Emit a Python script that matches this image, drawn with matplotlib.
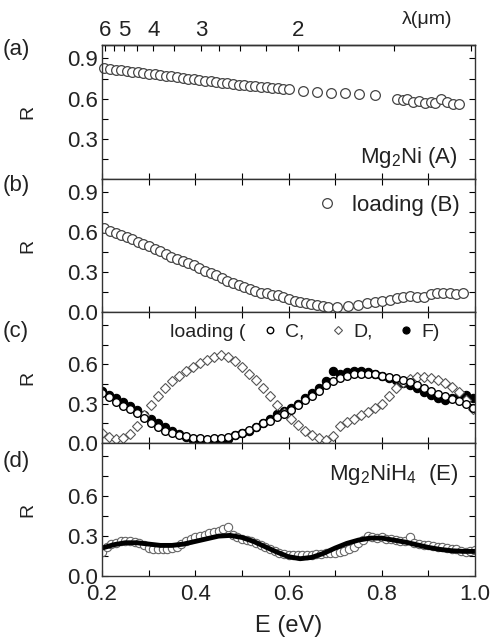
import numpy as np
import matplotlib.pyplot as plt
from matplotlib.ticker import MultipleLocator, FixedLocator

plt.rcParams['font.family'] = ['Liberation Sans', 'DejaVu Sans']
plt.rcParams['mathtext.default'] = 'regular'

# panel (a): Mg2Ni (A)
E_a = [0.205, 0.217, 0.229, 0.241, 0.253, 0.265, 0.277, 0.289, 0.301, 0.313,
       0.325, 0.337, 0.349, 0.361, 0.373, 0.385, 0.397, 0.409, 0.421, 0.433,
       0.445, 0.457, 0.469, 0.481, 0.493, 0.505, 0.517, 0.529, 0.541, 0.553,
       0.565, 0.577, 0.589, 0.601, 0.632, 0.662, 0.692, 0.722, 0.752, 0.785,
       0.832, 0.845, 0.855, 0.868, 0.880, 0.892, 0.905, 0.915, 0.928, 0.940,
       0.952, 0.965]
R_a = [0.825, 0.82, 0.815, 0.81, 0.805, 0.80, 0.795, 0.79, 0.785, 0.78,
       0.775, 0.77, 0.765, 0.76, 0.755, 0.75, 0.745, 0.74, 0.735, 0.73,
       0.725, 0.72, 0.715, 0.71, 0.705, 0.70, 0.697, 0.693, 0.69, 0.686,
       0.682, 0.678, 0.673, 0.668, 0.66, 0.652, 0.645, 0.64, 0.635, 0.625,
       0.60, 0.59, 0.595, 0.575, 0.58, 0.57, 0.575, 0.565, 0.595, 0.575,
       0.56, 0.56]

# panel (b): loading (B)
E_b = [0.205, 0.217, 0.229, 0.241, 0.253, 0.265, 0.277, 0.289, 0.301, 0.313,
       0.325, 0.337, 0.349, 0.361, 0.373, 0.385, 0.397, 0.409, 0.421, 0.433,
       0.445, 0.457, 0.469, 0.481, 0.493, 0.505, 0.517, 0.529, 0.541, 0.553,
       0.565, 0.577, 0.589, 0.601, 0.613, 0.625, 0.637, 0.649, 0.661, 0.673,
       0.685, 0.703, 0.728, 0.750, 0.768, 0.786, 0.800, 0.818, 0.832, 0.845,
       0.860, 0.875, 0.890, 0.905, 0.918, 0.932, 0.946, 0.960, 0.975]
R_b = [0.63, 0.61, 0.595, 0.58, 0.565, 0.55, 0.53, 0.51, 0.495, 0.475,
       0.455, 0.435, 0.415, 0.40, 0.385, 0.365, 0.35, 0.33, 0.31, 0.29,
       0.275, 0.255, 0.235, 0.215, 0.20, 0.185, 0.17, 0.155, 0.145, 0.14,
       0.13, 0.125, 0.115, 0.095, 0.085, 0.075, 0.068, 0.06, 0.055, 0.048,
       0.04, 0.035, 0.048, 0.055, 0.068, 0.075, 0.08, 0.09, 0.105, 0.112,
       0.12, 0.115, 0.112, 0.135, 0.14, 0.145, 0.14, 0.135, 0.14]

# panel (c): loading C, D, F
E_c = [0.200, 0.215, 0.230, 0.245, 0.260, 0.275, 0.290, 0.305, 0.320, 0.335,
       0.350, 0.365, 0.380, 0.395, 0.410, 0.425, 0.440, 0.455, 0.470, 0.485,
       0.500, 0.515, 0.530, 0.545, 0.560, 0.575, 0.590, 0.605, 0.620, 0.635,
       0.650, 0.665, 0.680, 0.695, 0.710, 0.725, 0.740, 0.755, 0.770, 0.785,
       0.800, 0.815, 0.830, 0.845, 0.860, 0.875, 0.890, 0.905, 0.920, 0.935,
       0.950, 0.965, 0.980, 0.995]
R_C = [0.38, 0.35, 0.31, 0.28, 0.26, 0.23, 0.19, 0.15, 0.12, 0.095,
       0.075, 0.06, 0.05, 0.04, 0.035, 0.033, 0.035, 0.04, 0.048, 0.06,
       0.08, 0.10, 0.125, 0.15, 0.17, 0.195, 0.225, 0.25, 0.29, 0.33,
       0.36, 0.40, 0.44, 0.47, 0.495, 0.515, 0.525, 0.53, 0.53, 0.525,
       0.515, 0.505, 0.495, 0.48, 0.465, 0.445, 0.42, 0.40, 0.375, 0.355,
       0.335, 0.32, 0.30, 0.27]
R_D = [0.08, 0.045, 0.03, 0.035, 0.07, 0.13, 0.21, 0.29, 0.36, 0.42,
       0.47, 0.51, 0.55, 0.58, 0.61, 0.635, 0.66, 0.67, 0.655, 0.625,
       0.58, 0.53, 0.48, 0.42, 0.36, 0.29, 0.23, 0.18, 0.135, 0.095,
       0.06, 0.035, 0.02, 0.055, 0.13, 0.16, 0.185, 0.21, 0.235, 0.265,
       0.30, 0.36, 0.42, 0.465, 0.49, 0.505, 0.505, 0.495, 0.48, 0.46,
       0.43, 0.39, 0.33, 0.26]
R_F = [0.40, 0.37, 0.34, 0.31, 0.28, 0.25, 0.21, 0.18, 0.15, 0.12,
       0.09, 0.065, 0.045, 0.025, 0.015, 0.01, 0.01, 0.015, 0.03, 0.06,
       0.075, 0.095, 0.125, 0.15, 0.185, 0.22, 0.245, 0.27, 0.30, 0.34,
       0.38, 0.42, 0.47, 0.55, 0.53, 0.545, 0.55, 0.55, 0.54, 0.53,
       0.515, 0.50, 0.48, 0.46, 0.44, 0.42, 0.39, 0.37, 0.345, 0.33,
       0.34, 0.36, 0.37, 0.34]

# panel (d): Mg2NiH4 (E), measured points and fit line
E_d = [0.20, 0.21, 0.22, 0.23, 0.24, 0.25, 0.26, 0.27, 0.28, 0.29,
       0.30, 0.31, 0.32, 0.33, 0.34, 0.35, 0.36, 0.37, 0.38, 0.39,
       0.40, 0.41, 0.42, 0.43, 0.44, 0.45, 0.46, 0.47, 0.48, 0.49,
       0.50, 0.51, 0.52, 0.53, 0.54, 0.55, 0.56, 0.57, 0.58, 0.59,
       0.60, 0.61, 0.62, 0.63, 0.64, 0.65, 0.66, 0.67, 0.68, 0.69,
       0.70, 0.71, 0.72, 0.73, 0.74, 0.75, 0.76, 0.77, 0.78, 0.79,
       0.80, 0.81, 0.82, 0.83, 0.84, 0.85, 0.86, 0.87, 0.88, 0.89,
       0.90, 0.91, 0.92, 0.93, 0.94, 0.95, 0.96, 0.97, 0.98, 0.99, 1.00]
R_d = [0.18, 0.22, 0.24, 0.25, 0.26, 0.26, 0.26, 0.255, 0.25, 0.23,
       0.21, 0.20, 0.20, 0.20, 0.20, 0.21, 0.22, 0.24, 0.26, 0.28,
       0.29, 0.30, 0.31, 0.32, 0.33, 0.34, 0.35, 0.37, 0.31, 0.29,
       0.28, 0.27, 0.26, 0.25, 0.235, 0.22, 0.20, 0.19, 0.175, 0.165,
       0.16, 0.155, 0.155, 0.155, 0.16, 0.16, 0.165, 0.165, 0.17, 0.17,
       0.175, 0.18, 0.19, 0.20, 0.22, 0.245, 0.27, 0.30, 0.29, 0.285,
       0.29, 0.28, 0.275, 0.27, 0.26, 0.265, 0.29, 0.25, 0.24, 0.235,
       0.23, 0.225, 0.22, 0.215, 0.21, 0.205, 0.20, 0.19, 0.18, 0.19, 0.195]
E_fit = [0.200, 0.225, 0.250, 0.275, 0.300, 0.325, 0.350, 0.375, 0.400, 0.425,
         0.450, 0.475, 0.500, 0.525, 0.550, 0.575, 0.600, 0.625, 0.650, 0.675,
         0.700, 0.725, 0.750, 0.775, 0.800, 0.825, 0.850, 0.875, 0.900, 0.925,
         0.950, 0.975, 1.000]
R_fit = [0.21, 0.235, 0.25, 0.25, 0.24, 0.23, 0.23, 0.24, 0.26, 0.28,
         0.30, 0.305, 0.29, 0.26, 0.22, 0.18, 0.145, 0.13, 0.14, 0.17,
         0.21, 0.245, 0.27, 0.285, 0.285, 0.27, 0.255, 0.235, 0.215, 0.20,
         0.19, 0.185, 0.185]

lam_major = [6, 5, 4, 3, 2]
lam_minor = [5.5, 4.5, 3.5, 2.75, 2.5, 2.25, 1.75, 1.5, 1.25]

W, H = 494, 639
fig = plt.figure(figsize=(W / 100, H / 100), dpi=100)
x0, x1 = 102, 475
edges = [45, 179, 312, 443, 576]
axes = []
for i in range(4):
    top, bot = edges[i], edges[i + 1]
    ax = fig.add_axes([x0 / W, 1 - bot / H, (x1 - x0) / W, (bot - top) / H])
    axes.append(ax)

tick_col = '#222222'
for i, ax in enumerate(axes):
    ax.set_xlim(0.2, 1.0)
    ax.set_ylim(0, 1.0)
    ax.xaxis.set_major_locator(MultipleLocator(0.2))
    ax.xaxis.set_minor_locator(MultipleLocator(0.1))
    ax.yaxis.set_major_locator(MultipleLocator(0.3))
    ax.yaxis.set_minor_locator(MultipleLocator(0.15))
    ax.tick_params(which='both', direction='in', right=True, top=(i > 0),
                   length=4, width=0.8, labelsize=16, labelcolor=tick_col, pad=3)
    ax.tick_params(axis='x', which='both', pad=6)
    for sp in ax.spines.values():
        sp.set_linewidth(1.0)
        sp.set_color('#333333')
    ax.set_ylabel('R', fontsize=14, color=tick_col)
    ax.yaxis.set_label_coords(-0.175, 0.5)
    if i < 3:
        ax.tick_params(axis='x', labelbottom=False)

axes[0].set_yticks([0.3, 0.6, 0.9])
axes[1].set_yticks([0.0, 0.3, 0.6, 0.9])
axes[2].set_yticks([0.0, 0.3, 0.6])
axes[3].set_yticks([0.0, 0.3, 0.6])

# (a)
ax = axes[0]
ax.plot(E_a, R_a, 'o', ms=7, mfc='white', mec='#444444', mew=0.9, clip_on=False)
ax.text(0.955, 0.16, 'Mg$_2$Ni (A)', transform=ax.transAxes, ha='right',
        va='center', fontsize=16, color=tick_col)
sec = ax.secondary_xaxis('top', functions=(lambda e: 1.24 / e, lambda l: 1.24 / l))
sec.xaxis.set_major_locator(FixedLocator(lam_major))
sec.xaxis.set_minor_locator(FixedLocator(lam_minor))
sec.tick_params(which='both', direction='in', length=4, width=0.8,
                labelsize=16, labelcolor=tick_col, pad=3)
sec.spines['top'].set_linewidth(1.0)
fig.text(452 / W, 1 - 20 / H, 'λ(μm)', ha='right', va='center', fontsize=14,
         color=tick_col)

# (b)
ax = axes[1]
ax.plot(E_b, R_b, 'o', ms=7, mfc='white', mec='#444444', mew=0.9,
        label='loading (B)')
ax.legend(loc='upper right', frameon=False, fontsize=16, handletextpad=0.5,
          borderaxespad=0.3, handlelength=1.2, labelcolor=tick_col)

# (c)
ax = axes[2]
hF, = ax.plot(E_c, R_F, 'o', ms=6, mfc='black', mec='black', mew=0.8, label='F)')
hD, = ax.plot(E_c, R_D, 'D', ms=5, mfc='white', mec='#555555', mew=0.8, label='D,')
hC, = ax.plot(E_c, R_C, 'o', ms=5.5, mfc='white', mec='black', mew=1.0, label='C,')
ax.legend(handles=[hC, hD, hF], loc='center left',
          bbox_to_anchor=((260 - x0) / (x1 - x0), 0.847), ncol=3, frameon=False,
          fontsize=14, handletextpad=0.3, columnspacing=1.2, handlelength=1.0,
          borderpad=0, borderaxespad=0, markerscale=0.85, labelcolor=tick_col)
ax.text((170 - x0) / (x1 - x0), 0.847, 'loading (', transform=ax.transAxes,
        ha='left', va='center', fontsize=14, color=tick_col)

# (d)
ax = axes[3]
ax.plot(E_d, R_d, 'o', ms=6, mfc='white', mec='#666666', mew=0.8)
ax.plot(E_fit, R_fit, '-', color='black', lw=3.5)
ax.text(0.955, 0.76, 'Mg$_2$NiH$_4$  (E)', transform=ax.transAxes, ha='right',
        va='center', fontsize=16, color=tick_col)
ax.set_xlabel('E (eV)', fontsize=17, labelpad=7, color=tick_col)

for lab, yc in zip(['(a)', '(b)', '(c)', '(d)'], [50, 185, 332, 462]):
    fig.text(3 / W, 1 - yc / H, lab, ha='left', va='center', fontsize=16,
             color=tick_col)

fig.savefig('out.png', dpi=100)
